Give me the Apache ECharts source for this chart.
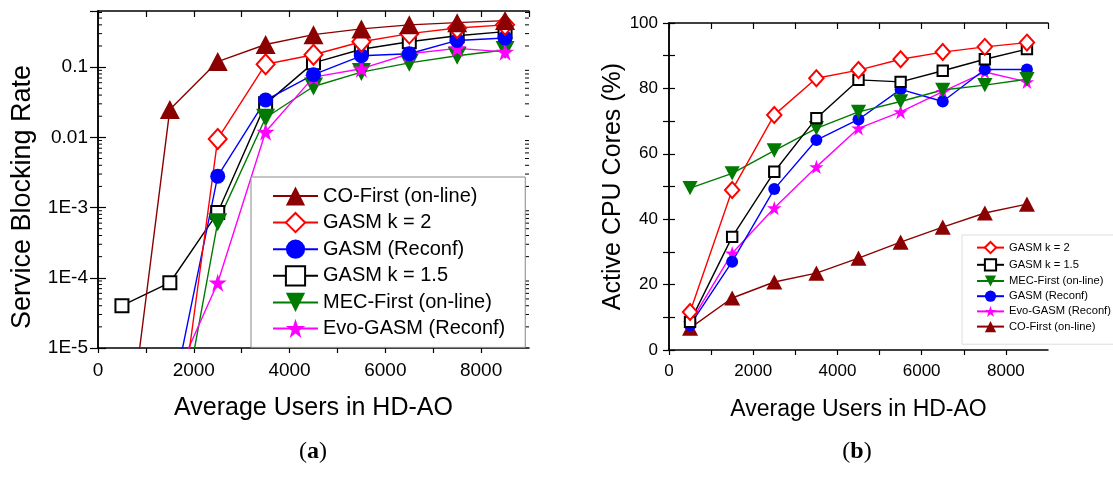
<!DOCTYPE html>
<html>
<head>
<meta charset="utf-8">
<script src="https://cdn.jsdelivr.net/npm/echarts@6/dist/echarts.min.js"></script>
<style>
html,body{margin:0;padding:0;background:#fff;}
#chart{width:1113px;height:492px;}
</style>
</head>
<body>
<div id="chart"></div>
<script>
// ---------- data ----------
const users = [500, 1500, 2500, 3500, 4500, 5500, 6500, 7500, 8500];

// (a) Service Blocking Rate (log scale)
const blockCOFirst    = [1e-7, 0.025, 0.12, 0.21, 0.29, 0.35, 0.40, 0.43, 0.46];
const blockGASMk2     = [null, 8e-8, 0.0095, 0.11, 0.15, 0.23, 0.30, 0.36, 0.40];
const blockGASMReconf = [null, 1.3e-6, 0.0028, 0.034, 0.078, 0.145, 0.155, 0.24, 0.26];
const blockGASMk15    = [4e-5, 8.5e-5, 8.5e-4, 0.03, 0.115, 0.18, 0.23, 0.28, 0.32];
const blockMECFirst   = [null, 1.2e-7, 0.00062, 0.019, 0.053, 0.085, 0.115, 0.145, 0.175];
const blockEvoGASM    = [null, 2.5e-6, 8.5e-5, 0.012, 0.072, 0.095, 0.155, 0.185, 0.165];

// (b) Active CPU Cores (%)
const cpuGASMk2     = [11.6, 48.9, 71.9, 83.1, 85.6, 88.9, 91.1, 92.7, 94.0];
const cpuGASMk15    = [8.6, 34.6, 54.5, 70.9, 82.6, 82.0, 85.4, 88.9, 92.0];
const cpuMECFirst   = [49.5, 54.0, 61.0, 67.8, 72.8, 76.0, 79.5, 81.0, 82.8];
const cpuGASMReconf = [7.6, 27.0, 49.2, 64.2, 70.5, 79.7, 76.0, 85.8, 85.8];
const cpuEvoGASM    = [8.2, 29.6, 43.4, 56.0, 67.8, 72.8, 79.0, 85.0, 82.0];
const cpuCOFirst    = [6.7, 15.9, 20.8, 23.5, 28.1, 33.0, 37.6, 41.9, 44.6];

// tick labels
const logTickLabels = {'-5': '1E-5', '-4': '1E-4', '-3': '1E-3', '-2': '0.01', '-1': '0.1'};
const logMinorTicks = [2e-5,3e-5,4e-5,5e-5,6e-5,7e-5,8e-5,9e-5,
                       2e-4,3e-4,4e-4,5e-4,6e-4,7e-4,8e-4,9e-4,
                       2e-3,3e-3,4e-3,5e-3,6e-3,7e-3,8e-3,9e-3,
                       0.02,0.03,0.04,0.05,0.06,0.07,0.08,0.09,
                       0.2,0.3,0.4,0.5,0.6];

const names = {
  co: 'CO-First (on-line)', k2: 'GASM k = 2', rc: 'GASM (Reconf)',
  k15: 'GASM k = 1.5', mec: 'MEC-First (on-line)', evo: 'Evo-GASM (Reconf)'
};
const legendLeftOrder = [names.co, names.k2, names.rc, names.k15, names.mec, names.evo];
const legendRightOrder = [names.k2, names.k15, names.mec, names.rc, names.evo, names.co];

// ---------- styling ----------
const FONT = "'Liberation Sans', Arial, sans-serif";
const SERIF = "'Liberation Serif', 'Times New Roman', serif";
const STAR = 'path://M50,0 L61.2,34.5 L97.6,34.5 L68.2,55.9 L79.4,90.5 L50,69.1 L20.6,90.5 L31.8,55.9 L2.4,34.5 L38.8,34.5 Z';
const col = {co: '#8b0000', k2: '#ff0000', rc: '#0000ff', k15: '#000000', mec: '#007a00', evo: '#ff00ff'};

function pairs(arr) { return users.map((x, i) => [x, arr[i]]); }

function mkSeries(key, arr, gi, big) {
  const s = big ? 1 : 0.8;
  const sym = {
    co:  {symbol: 'triangle', size: [20 * s, 19 * s]},
    k2:  {symbol: 'emptyDiamond', size: [18 * s, 20 * s]},
    rc:  {symbol: 'circle', size: 15 * s},
    k15: {symbol: 'emptyRect', size: 13 * s},
    mec: {symbol: 'triangle', size: [19 * s, 18 * s], rotate: 180},
    evo: {symbol: STAR, size: 18 * s}
  }[key];
  return {
    type: 'line', name: names[key], xAxisIndex: gi * 2, yAxisIndex: gi * 2,
    data: pairs(arr), symbol: sym.symbol, symbolSize: sym.size,
    symbolRotate: sym.rotate || 0, showAllSymbol: true, clip: true,
    lineStyle: {color: col[key], width: 1.4},
    itemStyle: {color: col[key], borderWidth: 1.5},
    emphasis: {disabled: true}, animation: false, z: 3
  };
}

const axisLineStyle = {color: '#000', width: 1.5};

function xAxes(gi, labelSize, nameSize) {
  const base = {
    gridIndex: gi, type: 'value', min: 0, max: 9000, interval: 1000,
    splitLine: {show: false}, axisLine: {lineStyle: axisLineStyle, onZero: false}
  };
  return [
    Object.assign({}, base, {
      position: 'bottom',
      axisTick: {length: 5, lineStyle: {color: '#000', width: 1.2}},
      axisLabel: {color: '#000', fontSize: labelSize, fontFamily: FONT, margin: 13, showMaxLabel: false,
        formatter: v => (v % 2000 === 0 ? String(v) : '')},
      name: 'Average Users in HD-AO', nameLocation: 'middle', nameGap: 48,
      nameTextStyle: {color: '#000', fontSize: nameSize, fontFamily: FONT}
    }),
    Object.assign({}, base, {
      position: 'top',
      axisTick: {inside: true, length: 6, lineStyle: {color: '#000', width: 1.2}},
      axisLabel: {show: false}
    })
  ];
}

const option = {
  backgroundColor: '#fff',
  animation: false,
  grid: [
    {left: 98, top: 11, width: 431, height: 337},
    {left: 669, top: 23, width: 379, height: 327}
  ],
  xAxis: [].concat(xAxes(0, 19, 25), xAxes(1, 17, 23)),
  yAxis: [
    {
      gridIndex: 0, type: 'log', logBase: 10, min: 1e-5, max: 0.63, position: 'left',
      splitLine: {show: false}, axisLine: {lineStyle: axisLineStyle},
      axisTick: {inside: true, length: 8, lineStyle: {color: '#000', width: 1.2}},
      axisLabel: {color: '#000', fontSize: 19, fontFamily: FONT, margin: 10, showMaxLabel: false,
        formatter: v => logTickLabels[String(Math.round(Math.log10(v)))] || ''}
    },
    {
      gridIndex: 0, type: 'log', logBase: 10, min: 1e-5, max: 0.63, position: 'right',
      splitLine: {show: false}, axisLine: {lineStyle: axisLineStyle},
      axisTick: {inside: true, length: 8, lineStyle: {color: '#000', width: 1.2}},
      axisLabel: {show: false}
    },
    {
      gridIndex: 1, type: 'value', min: 0, max: 100, interval: 10, position: 'left',
      splitLine: {show: false}, axisLine: {lineStyle: axisLineStyle},
      axisTick: {inside: true, length: 6, lineStyle: {color: '#000', width: 1.2}},
      axisLabel: {color: '#000', fontSize: 17, fontFamily: FONT, margin: 11,
        formatter: v => (v % 20 === 0 ? String(v) : '')},
      name: 'Active CPU Cores (%)', nameLocation: 'middle', nameGap: 33,
      nameTextStyle: {color: '#000', fontSize: 25, fontFamily: FONT}
    },
    {
      gridIndex: 1, type: 'value', min: 0, max: 100, interval: 10, position: 'right',
      splitLine: {show: false}, axisLine: {lineStyle: axisLineStyle},
      axisTick: {inside: true, length: 6, lineStyle: {color: '#000', width: 1.2}},
      axisLabel: {show: false}
    }
  ],
  legend: [
    {
      data: legendLeftOrder, orient: 'vertical', left: 251, top: 177,
      padding: [9, 20, 9, 21], itemWidth: 45, itemHeight: 24, itemGap: 6,
      borderColor: '#888', borderWidth: 1, backgroundColor: '#fff',
      textStyle: {color: '#000', fontSize: 20, fontFamily: FONT},
      selectedMode: false, z: 10
    },
    {
      data: legendRightOrder, orient: 'vertical', left: 962, top: 235,
      padding: [6, 8, 12, 14], itemWidth: 27, itemHeight: 14, itemGap: 4,
      borderColor: '#ddd', borderWidth: 1, backgroundColor: '#fff',
      textStyle: {color: '#000', fontSize: 11.2, fontFamily: FONT},
      selectedMode: false, z: 10
    }
  ],
  graphic: [
    {type: 'text', x: 23, y: 197, rotation: Math.PI / 2, silent: true,
      style: {text: 'Service Blocking Rate', fill: '#000', align: 'center', verticalAlign: 'middle',
        font: "27px " + FONT}},
    {type: 'text', x: 313, y: 452, silent: true,
      style: {text: '({b|a})', fill: '#000', align: 'center', verticalAlign: 'middle',
        font: "24px " + SERIF, rich: {b: {fontWeight: 'bold', fontSize: 24, fontFamily: SERIF}}}},
    {type: 'text', x: 857, y: 452, silent: true,
      style: {text: '({b|b})', fill: '#000', align: 'center', verticalAlign: 'middle',
        font: "24px " + SERIF, rich: {b: {fontWeight: 'bold', fontSize: 24, fontFamily: SERIF}}}}
  ],
  series: [
    {
      type: 'custom', xAxisIndex: 0, yAxisIndex: 0, silent: true, z: 2,
      data: logMinorTicks.map(v => [0, v]),
      renderItem: function (params, api) {
        const v = api.value(1);
        const pl = api.coord([0, v]);
        const pr = api.coord([9000, v]);
        const st = {stroke: '#000', lineWidth: 1};
        return {type: 'group', children: [
          {type: 'line', shape: {x1: pl[0], y1: pl[1], x2: pl[0] + 4, y2: pl[1]}, style: st},
          {type: 'line', shape: {x1: pr[0], y1: pr[1], x2: pr[0] - 4, y2: pr[1]}, style: st}
        ]};
      }
    },
    mkSeries('k15', blockGASMk15, 0, true),
    mkSeries('mec', blockMECFirst, 0, true),
    mkSeries('evo', blockEvoGASM, 0, true),
    mkSeries('rc', blockGASMReconf, 0, true),
    mkSeries('k2', blockGASMk2, 0, true),
    mkSeries('co', blockCOFirst, 0, true),
    mkSeries('co', cpuCOFirst, 1, false),
    mkSeries('evo', cpuEvoGASM, 1, false),
    mkSeries('rc', cpuGASMReconf, 1, false),
    mkSeries('mec', cpuMECFirst, 1, false),
    mkSeries('k15', cpuGASMk15, 1, false),
    mkSeries('k2', cpuGASMk2, 1, false)
  ]
};

const chart = echarts.init(document.getElementById('chart'), null, {renderer: 'canvas'});
chart.setOption(option);
</script>
</body>
</html>
